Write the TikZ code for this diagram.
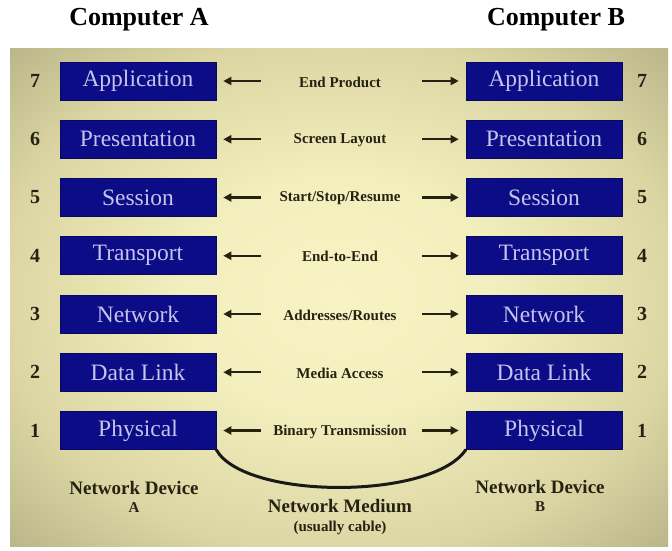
\documentclass[tikz,border=0pt]{standalone}
\usepackage{fontspec}
\setmainfont{Liberation Serif}
\newfontfamily\boxfont{Liberation Serif}
\usetikzlibrary{arrows.meta,calc}
\definecolor{navybox}{HTML}{0C0C86}
\definecolor{boxtext}{HTML}{C4C4EE}
\definecolor{inkdark}{HTML}{262212}
\definecolor{bginner}{HTML}{F7F3C2}
\definecolor{bgmid}{HTML}{DAD5A2}
\definecolor{bgouter}{HTML}{ABA77E}
\pgfdeclareradialshading{bgshade}{\pgfpoint{0bp}{0bp}}{%
  color(0bp)=(bginner); color(12bp)=(bginner!85!bgmid); color(26bp)=(bgmid); color(40bp)=(bgouter); color(50bp)=(bgouter)}
\tikzset{
  layerbox/.style={fill=navybox, draw=navybox!70!black, line width=0.6pt,
    minimum width=156pt, minimum height=38pt, inner sep=0pt,
    text=boxtext, font=\boxfont\fontsize{23.5}{26}\selectfont},
  layernum/.style={text=inkdark, font=\fontsize{20}{22}\selectfont\bfseries},
  midlabel/.style={text=inkdark, font=\fontsize{15}{17}\selectfont\bfseries},
  title/.style={text=black, font=\fontsize{26}{28}\selectfont\bfseries},
  devlabel/.style={text=inkdark, align=center, font=\fontsize{19}{21}\selectfont\bfseries},
  arr/.style={draw=inkdark, line width=2.4pt, -{Triangle[length=8pt,width=8pt]}, shorten >=7pt},
  cable/.style={draw=black!90, line width=3pt, line cap=round}
}
\begin{document}
\begin{tikzpicture}[x=1pt,y=-1pt]
\useasboundingbox (0,0) rectangle (672,550);
\fill[white] (0,0) rectangle (672,550);
\shade[shading=bgshade] (10,48) rectangle (668,546);

\node[title] (ca) at (139,20) {Computer A};
\node[title] (cb) at (556,20) {Computer B};

\foreach \n/\name/\lbl in {7/{Application}/{End Product},6/{Presentation}/{Screen Layout},5/{Session}/{Start/Stop/Resume},4/{Transport}/{End-to-End},3/{Network}/{Addresses/Routes},2/{Data Link}/{Media Access},1/{Physical}/{Binary Transmission}}{
  \pgfmathsetmacro{\yy}{81+(7-\n)*58.25}
  \node[layerbox] (a\n) at (138,\yy) {\name};
  \node[layerbox] (b\n) at (544,\yy) {\name};
  \node[layernum] (na\n) at (35,\yy) {\n};
  \node[layernum] (nb\n) at (642,\yy) {\n};
  \node[midlabel] (m\n) at (340,\yy+1) {\lbl};
  \coordinate (ta\n) at (261,\yy);
  \coordinate (tb\n) at (422,\yy);
  \draw[arr] (ta\n) -- (a\n.east);
  \draw[arr] (tb\n) -- (b\n.west);
}

\draw[cable] (a1.south east) .. controls (245,500) and (432,500) .. (b1.south west);

\node[devlabel] (da) at (134,497) {Network Device\\[-3pt]{\fontsize{15}{17}\selectfont A}};
\node[devlabel] (db) at (540,496) {Network Device\\[-3pt]{\fontsize{15}{17}\selectfont B}};
\node[devlabel] (nm) at (340,517) {Network Medium\\[-2pt]{\fontsize{15}{17}\selectfont (usually cable)}};
\end{tikzpicture}
\end{document}
